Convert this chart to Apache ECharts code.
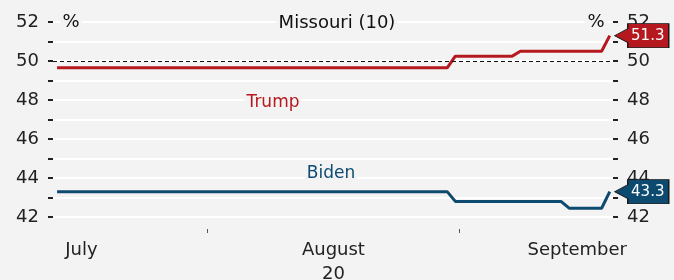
<!DOCTYPE html>
<html>
<head>
<meta charset="utf-8">
<script src="https://cdn.jsdelivr.net/npm/echarts@6/dist/echarts.min.js"></script>
<style>
  html, body { margin: 0; padding: 0; background: #f3f3f3; }
  #chart { width: 674px; height: 280px; }
</style>
</head>
<body>
<div id="chart"></div>
<script>
// days counted from July 1 (= 0); the line changes only at these days
var trumpDays   = [12, 60, 61, 68, 69, 79, 80];
var trumpValues = [49.65, 49.65, 50.25, 50.25, 50.5, 50.5, 51.3];
var bidenDays   = [12, 60, 61, 74, 75, 79, 80];
var bidenValues = [43.3, 43.3, 42.8, 42.8, 42.45, 42.45, 43.3];

var monthDays   = [15, 46, 76];              // label position, mid month
var monthNames  = ['July', 'August\n20', 'September'];
var monthBreaks = [30.5, 61.5];              // Aug 1, Sep 1

var yTicks = [42, 43, 44, 45, 46, 47, 48, 49, 50, 51, 52];
var majority = 50;

var bg   = '#f3f3f3';
var red  = '#b5191f';
var blue = '#0d4a70';
var font = 'DejaVu Sans';

function pairs(days, vals) {
    var res = [];
    for (var i = 0; i < days.length; i++) res.push([days[i], vals[i]]);
    return res;
}

// little tag with a pointer on its left side
var tagPath = 'path://M0,12L13,5L13,0L54,0L54,24L13,24L13,19Z';

function endTag(days, vals, color) {
    var n = days.length - 1;
    return {
        silent: true,
        symbol: tagPath,
        symbolKeepAspect: false,
        symbolSize: [54, 24],
        symbolOffset: [32, 0],
        itemStyle: { color: color, borderColor: '#1a1a1a', borderWidth: 1 },
        label: {
            show: true,
            position: 'inside',
            offset: [6, 0],
            color: '#fff',
            fontFamily: font,
            fontSize: 15,
            formatter: function (p) { return p.value.toFixed(1); }
        },
        data: [{ coord: [days[n], vals[n]], value: vals[n] }]
    };
}

function yAxisFor(pos) {
    return {
        type: 'value',
        position: pos,
        min: yTicks[0],
        max: yTicks[yTicks.length - 1],
        interval: 1,
        axisLine: { show: false },
        axisTick: { show: true, length: 5, lineStyle: { color: '#222', width: 2 } },
        axisLabel: {
            margin: 14,
            color: '#222',
            fontFamily: font,
            fontSize: 18,
            formatter: function (v) { return v % 2 === 0 ? String(v) : ''; }
        },
        splitLine: { show: pos === 'left', lineStyle: { color: '#ffffff', width: 2 } }
    };
}

// text that hides the grid lines behind it
function note(x, y, text, color, size, align) {
    return {
        type: 'text', x: x, y: y, z: 50,
        style: {
            text: text, fill: color, font: size + 'px "' + font + '"',
            align: align, verticalAlign: 'middle',
            backgroundColor: bg, padding: [0, 2]
        }
    };
}

var chart = echarts.init(document.getElementById('chart'));

chart.setOption({
    backgroundColor: bg,
    animation: false,
    grid: { left: 53, right: 61, top: 22, bottom: 63, containLabel: false, outerBoundsMode: 'none' },
    xAxis: {
        type: 'value',
        min: 11.5,
        max: 80.4,
        offset: 12,
        axisLine: { show: false },
        splitLine: { show: false },
        axisTick: {
            show: true,
            length: 4,
            customValues: monthBreaks,
            lineStyle: { color: '#555', width: 1 }
        },
        axisLabel: {
            margin: 9,
            color: '#222',
            fontFamily: font,
            fontSize: 18,
            lineHeight: 24,
            customValues: monthDays,
            formatter: function (v) {
                var i = monthDays.indexOf(v);
                return i >= 0 ? monthNames[i] : '';
            }
        }
    },
    yAxis: [yAxisFor('left'), yAxisFor('right')],
    graphic: [
        note(337, 23, 'Missouri (10)', '#111', 18, 'center'),
        note(71, 22, '%', '#111', 18, 'center'),
        note(596, 22, '%', '#111', 18, 'center'),
        note(273, 103, 'Trump', red, 17, 'center'),
        note(331, 174, 'Biden', blue, 17, 'center')
    ],
    series: [
        {
            name: 'Trump',
            type: 'line',
            z: 3,
            data: pairs(trumpDays, trumpValues),
            showSymbol: false,
            lineStyle: { color: red, width: 3 },
            itemStyle: { color: red },
            markLine: {
                silent: true,
                symbol: 'none',
                label: { show: false },
                lineStyle: { color: '#111', width: 1, type: [4, 3] },
                data: [{ yAxis: majority }]
            },
            markPoint: endTag(trumpDays, trumpValues, red)
        },
        {
            name: 'Biden',
            type: 'line',
            z: 3,
            data: pairs(bidenDays, bidenValues),
            showSymbol: false,
            lineStyle: { color: blue, width: 3 },
            itemStyle: { color: blue },
            markPoint: endTag(bidenDays, bidenValues, blue)
        }
    ]
});
</script>
</body>
</html>
